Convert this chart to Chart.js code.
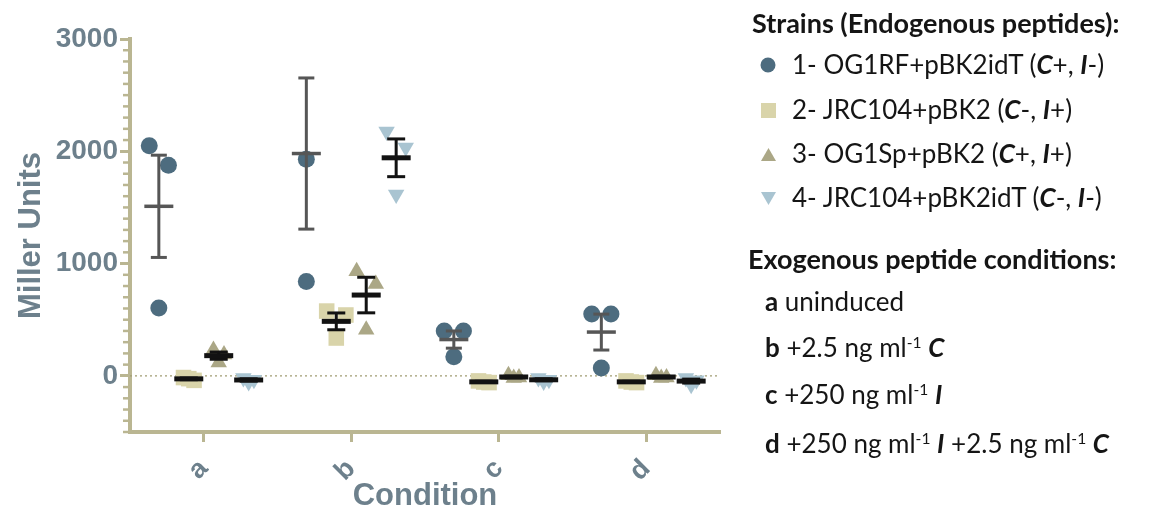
<!DOCTYPE html>
<html>
<head>
<meta charset="utf-8">
<script src="https://cdn.jsdelivr.net/npm/chart.js@4"></script>
<style>
  body { margin: 0; background: #fff; width: 1149px; height: 516px; overflow: hidden; position: relative; }
  #plot { position: absolute; left: 0; top: 0; width: 740px; height: 516px; }
  #legend { position: absolute; left: 0; top: 0; width: 1149px; height: 516px; font-family: Lato, sans-serif; color: #151515; pointer-events: none; }
  #legend div { position: absolute; white-space: nowrap; line-height: 1; }
  .head { font-weight: bold; font-size: 27px; }
  .item { font-size: 26px; }
  .item svg { position: absolute; left: -32px; top: 5px; }
  sup { font-size: 60%; line-height: 0; vertical-align: 0.55em; }
</style>
</head>
<body>
<div id="plot"><canvas id="myChart"></canvas></div>

<div id="legend">
  <div class="head" style="left:752px; top:9px">Strains (Endogenous peptides):</div>
  <div class="item" style="left:792px; top:51px"><svg width="18" height="18"><circle cx="8" cy="9" r="7.5" fill="#4d6c7f"/></svg>1- OG1RF+pBK2idT (<b><i>C</i></b>+, <b><i>I</i></b>-)</div>
  <div class="item" style="left:792px; top:96px"><svg width="18" height="18"><rect x="1" y="2" width="15" height="15" fill="#d9d4aa"/></svg>2- JRC104+pBK2 (<b><i>C</i></b>-, <b><i>I</i></b>+)</div>
  <div class="item" style="left:792px; top:140px"><svg width="18" height="18"><polygon points="8.5,3 16,16 1,16" fill="#aba786"/></svg>3- OG1Sp+pBK2 (<b><i>C</i></b>+, <b><i>I</i></b>+)</div>
  <div class="item" style="left:792px; top:184px"><svg width="18" height="18"><polygon points="1,3 16,3 8.5,16" fill="#a9c4d1"/></svg>4- JRC104+pBK2idT (<b><i>C</i></b>-, <b><i>I</i></b>-)</div>

  <div class="head" style="left:748px; top:245px">Exogenous peptide conditions:</div>
  <div class="item" style="left:765px; top:288px"><b>a</b> uninduced</div>
  <div class="item" style="left:765px; top:334px"><b>b</b> +2.5 ng ml<sup>-1</sup> <b><i>C</i></b></div>
  <div class="item" style="left:765px; top:381px"><b>c</b> +250 ng ml<sup>-1</sup> <b><i>I</i></b></div>
  <div class="item" style="left:765px; top:430px"><b>d</b> +250 ng ml<sup>-1</sup> <b><i>I</i></b> +2.5 ng ml<sup>-1</sup> <b><i>C</i></b></div>
</div>

<script>
// conditions on the x axis
const conditions = ['a', 'b', 'c', 'd'];
const strainLabels = [
    '1- OG1RF+pBK2idT (C+, I-)',
    '2- JRC104+pBK2 (C-, I+)',
    '3- OG1Sp+pBK2 (C+, I+)',
    '4- JRC104+pBK2idT (C-, I-)'
];

// Miller units, three replicates per condition (a, b, c, d)
const strain1 = [[2050, 1875, 605], [1930, 840, 3170], [400, 400, 170], [550, 550, 70]];
const strain2 = [[-15, -40, -25], [337, 577, 542], [-45, -60, -55], [-45, -60, -55]];
const strain3 = [[230, 190, 120], [932, 817, 410], [5, -15, -20], [5, -15, -20]];
const strain4 = [[-20, -35, -55], [2176, 2034, 1616], [-20, -35, -50], [-20, -40, -80]];

const yTicks = [0, 1000, 2000, 3000];

const axisColor = '#bab692';
const labelColor = '#6d808c';

const strainStyles = [
    { color: '#4d6c7f', shape: 'circle', radius: 8.5, rotation: 0, bar: '#565656' },
    { color: '#d9d4aa', shape: 'rect', radius: 11, rotation: 0, bar: '#121212' },
    { color: '#aba786', shape: 'triangle', radius: 9.5, rotation: 0, bar: '#121212' },
    { color: '#a9c4d1', shape: 'triangle', radius: 9.5, rotation: 180, bar: '#121212' }
];

const strainGap = 0.203;  // spacing between strains inside a condition (category units)
const spread = 0.065;     // sideways spread of overlapping replicates

const xFor = (c, s) => c + 0.5 + (s - 1.5) * strainGap;

// spread replicates that would overlap
function jitter(vals) {
    const pattern = [-1, 1, 0];
    const close = vals.map((v, i) => vals.some((w, j) => j !== i && Math.abs(w - v) < 200));
    const all = close.every(Boolean);
    let k = 0;
    return close.map(c => c ? pattern[k++ % 3] * (all ? 0.55 : 1) : 0);
}

const mean = a => a.reduce((s, v) => s + v, 0) / a.length;
const sem = a => {
    const m = mean(a);
    return Math.sqrt(a.reduce((s, v) => s + (v - m) * (v - m), 0) / (a.length - 1)) / Math.sqrt(a.length);
};

const datasets = [];
[strain1, strain2, strain3, strain4].forEach((groups, s) => {
    const st = strainStyles[s];
    const pts = [], means = [], errs = [];
    groups.forEach((vals, c) => {
        const j = jitter(vals);
        vals.forEach((v, i) => pts.push({ x: xFor(c, s) + j[i] * spread, y: v }));
        const m = mean(vals), e = sem(vals);
        means.push({ x: xFor(c, s), y: m });
        errs.push({ x: xFor(c, s), y: m - e }, { x: xFor(c, s), y: m + e }, { x: xFor(c, s), y: null });
    });
    datasets.push({
        type: 'scatter',
        label: strainLabels[s],
        data: pts,
        pointStyle: st.shape,
        pointRotation: st.rotation,
        pointRadius: st.radius,
        backgroundColor: st.color,
        borderWidth: 0,
        order: 3
    });
    datasets.push({
        type: 'line',
        label: 'SEM ' + (s + 1),
        data: errs,
        showLine: true,
        spanGaps: false,
        borderColor: st.bar,
        borderWidth: 3,
        pointStyle: 'line',
        pointRadius: s === 0 ? 8 : 9,
        pointBorderWidth: 3,
        pointBorderColor: st.bar,
        order: 1
    });
    datasets.push({
        type: 'scatter',
        label: 'Mean ' + (s + 1),
        data: means,
        pointStyle: 'line',
        pointRadius: 14.5,
        pointBorderWidth: s === 0 ? 3.5 : 5,
        pointBorderColor: st.bar,
        order: 0
    });
});

// dotted zero line
datasets.push({
    type: 'line',
    label: 'zero',
    data: [{ x: 0, y: 0 }, { x: conditions.length, y: 0 }],
    borderColor: '#a09c72',
    borderWidth: 1.4,
    borderDash: [2, 3],
    pointRadius: 0,
    order: 4
});

const minorTicks = {
    id: 'minorTicks',
    afterDraw(chart) {
        const y = chart.scales.y, ctx = chart.ctx;
        ctx.save();
        ctx.strokeStyle = axisColor;
        ctx.lineWidth = 2.5;
        for (let v = y.min; v <= y.max; v += 100) {
            if (v % 1000 === 0) continue;
            const py = y.getPixelForValue(v);
            ctx.beginPath();
            ctx.moveTo(y.right - 7, py);
            ctx.lineTo(y.right, py);
            ctx.stroke();
        }
        ctx.restore();
    }
};

const ctx = document.getElementById('myChart').getContext('2d');
const myChart = new Chart(ctx, {
    type: 'scatter',
    data: { datasets: datasets },
    plugins: [minorTicks],
    options: {
        responsive: true,
        maintainAspectRatio: false,
        animation: false,
        layout: { padding: { top: 39, right: 20, left: 0, bottom: 0 } },
        plugins: {
            legend: { display: false },
            tooltip: { enabled: false }
        },
        scales: {
            x: {
                type: 'linear',
                min: 0,
                max: conditions.length,
                afterBuildTicks: axis => { axis.ticks = conditions.map((c, i) => ({ value: i + 0.5 })); },
                afterFit: axis => { axis.height = 84; },
                ticks: {
                    callback: v => conditions[Math.round(v - 0.5)],
                    color: labelColor,
                    font: { family: 'Liberation Sans', size: 27, weight: 'bold' },
                    minRotation: 45,
                    maxRotation: 45,
                    padding: 11
                },
                grid: { drawOnChartArea: false, tickLength: 10, tickWidth: 3, tickColor: axisColor },
                border: { color: axisColor, width: 4 },
                title: {
                    display: true,
                    text: 'Condition',
                    color: labelColor,
                    font: { family: 'Liberation Sans', size: 31, weight: 'bold' },
                    padding: { top: 0, bottom: 1 }
                }
            },
            y: {
                min: -500,
                max: 3000,
                afterBuildTicks: axis => { axis.ticks = yTicks.map(v => ({ value: v })); },
                afterFit: axis => { axis.width = 130; },
                ticks: {
                    callback: v => String(v),
                    color: labelColor,
                    font: { family: 'Liberation Sans', size: 28, weight: 'bold' },
                    padding: 2
                },
                grid: { drawOnChartArea: false, tickLength: 10, tickWidth: 3, tickColor: axisColor },
                border: { color: axisColor, width: 4 },
                title: {
                    display: true,
                    text: 'Miller Units',
                    color: labelColor,
                    font: { family: 'Liberation Sans', size: 31, weight: 'bold' },
                    padding: { top: 13, bottom: 0 }
                }
            }
        }
    }
});
</script>
</body>
</html>
